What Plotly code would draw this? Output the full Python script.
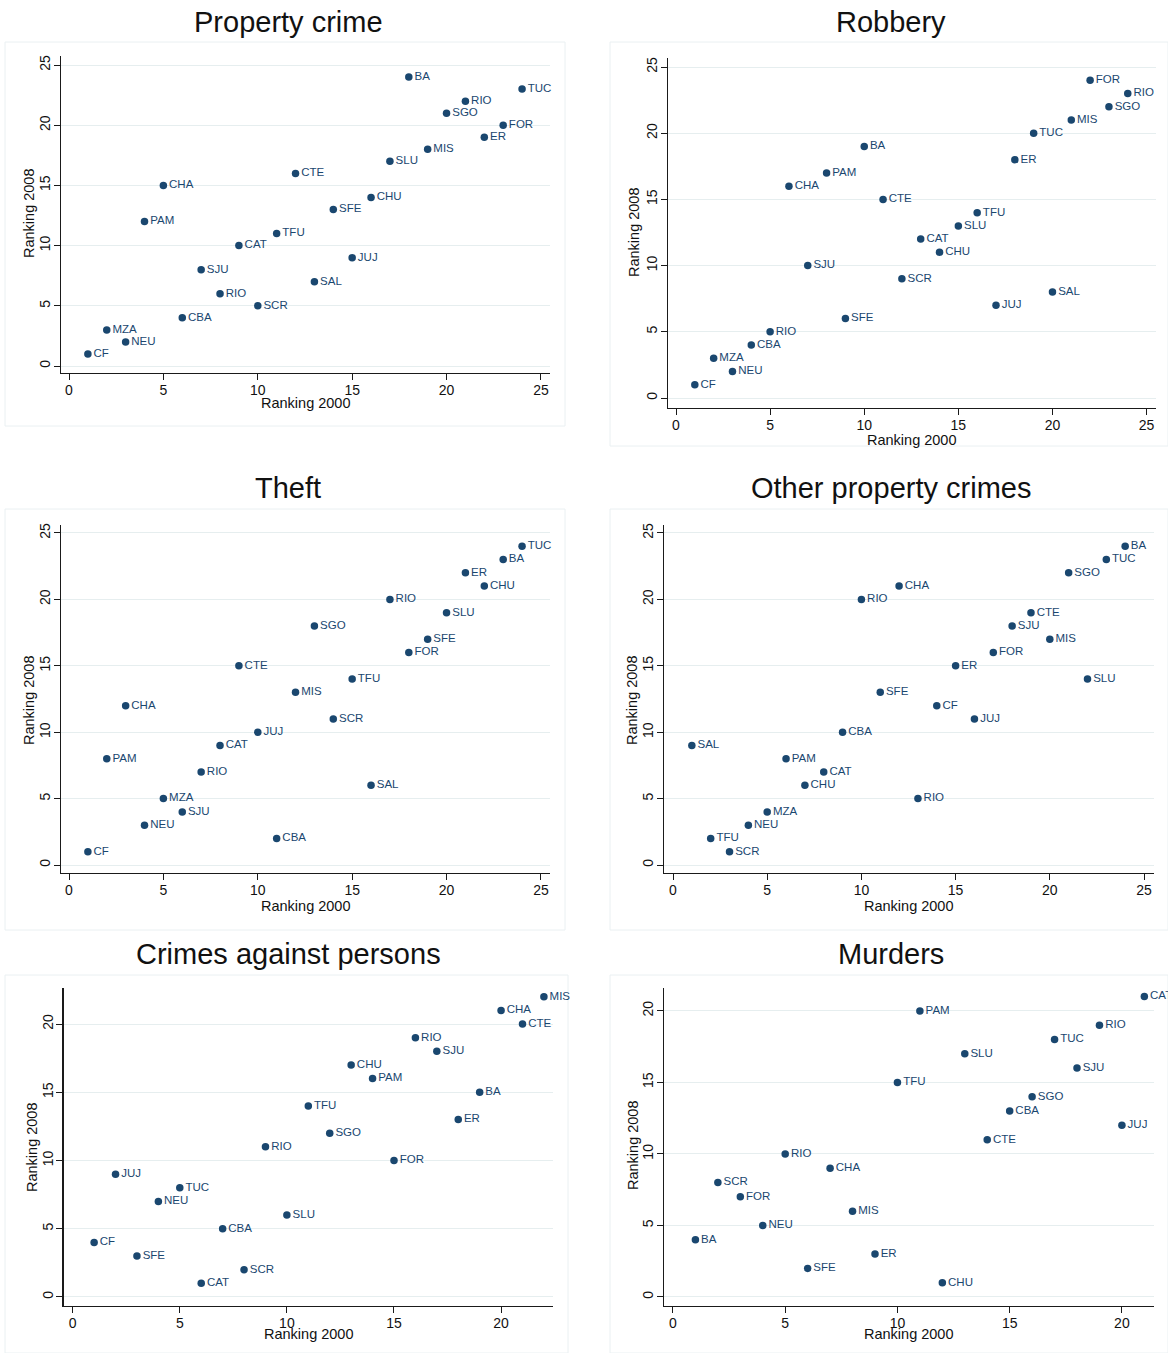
import plotly.graph_objects as go

# ---------------- data ----------------
ticks_25 = [0, 5, 10, 15, 20, 25]
ticks_20 = [0, 5, 10, 15, 20]

prop_labels = ["BA", "TUC", "RIO", "SGO", "FOR", "ER", "MIS", "SLU", "CTE", "CHA", "CHU", "SFE",
               "PAM", "TFU", "CAT", "JUJ", "SJU", "SAL", "RIO", "SCR", "CBA", "MZA", "NEU", "CF"]
prop_x = [18, 24, 21, 20, 23, 22, 19, 17, 12, 5, 16, 14, 4, 11, 9, 15, 7, 13, 8, 10, 6, 2, 3, 1]
prop_y = [24, 23, 22, 21, 20, 19, 18, 17, 16, 15, 14, 13, 12, 11, 10, 9, 8, 7, 6, 5, 4, 3, 2, 1]

rob_labels = ["FOR", "RIO", "SGO", "MIS", "TUC", "BA", "ER", "PAM", "CHA", "CTE", "TFU", "SLU",
              "CAT", "CHU", "SJU", "SCR", "SAL", "JUJ", "SFE", "RIO", "CBA", "MZA", "NEU", "CF"]
rob_x = [22, 24, 23, 21, 19, 10, 18, 8, 6, 11, 16, 15, 13, 14, 7, 12, 20, 17, 9, 5, 4, 2, 3, 1]
rob_y = [24, 23, 22, 21, 20, 19, 18, 17, 16, 15, 14, 13, 12, 11, 10, 9, 8, 7, 6, 5, 4, 3, 2, 1]

theft_labels = ["TUC", "BA", "ER", "CHU", "RIO", "SLU", "SGO", "SFE", "FOR", "CTE", "TFU", "MIS",
                "CHA", "SCR", "JUJ", "CAT", "PAM", "RIO", "SAL", "MZA", "SJU", "NEU", "CBA", "CF"]
theft_x = [24, 23, 21, 22, 17, 20, 13, 19, 18, 9, 15, 12, 3, 14, 10, 8, 2, 7, 16, 5, 6, 4, 11, 1]
theft_y = [24, 23, 22, 21, 20, 19, 18, 17, 16, 15, 14, 13, 12, 11, 10, 9, 8, 7, 6, 5, 4, 3, 2, 1]

other_labels = ["BA", "TUC", "SGO", "CHA", "RIO", "CTE", "SJU", "MIS", "FOR", "ER", "SLU", "SFE",
                "CF", "JUJ", "CBA", "SAL", "PAM", "CAT", "CHU", "RIO", "MZA", "NEU", "TFU", "SCR"]
other_x = [24, 23, 21, 12, 10, 19, 18, 20, 17, 15, 22, 11, 14, 16, 9, 1, 6, 8, 7, 13, 5, 4, 2, 3]
other_y = [24, 23, 22, 21, 20, 19, 18, 17, 16, 15, 14, 13, 12, 11, 10, 9, 8, 7, 6, 5, 4, 3, 2, 1]

pers_labels = ["MIS", "CHA", "CTE", "RIO", "SJU", "CHU", "PAM", "BA", "TFU", "ER", "SGO",
               "RIO", "FOR", "JUJ", "TUC", "NEU", "SLU", "CBA", "CF", "SFE", "SCR", "CAT"]
pers_x = [22, 20, 21, 16, 17, 13, 14, 19, 11, 18, 12, 9, 15, 2, 5, 4, 10, 7, 1, 3, 8, 6]
pers_y = [22, 21, 20, 19, 18, 17, 16, 15, 14, 13, 12, 11, 10, 9, 8, 7, 6, 5, 4, 3, 2, 1]

mur_labels = ["CAT", "PAM", "RIO", "TUC", "SLU", "SJU", "TFU", "SGO", "CBA", "JUJ", "CTE",
              "RIO", "CHA", "SCR", "FOR", "MIS", "NEU", "BA", "ER", "SFE", "CHU"]
mur_x = [21, 11, 19, 17, 13, 18, 10, 16, 15, 20, 14, 5, 7, 2, 3, 8, 4, 1, 9, 6, 12]
mur_y = [21, 20, 19, 18, 17, 16, 15, 14, 13, 12, 11, 10, 9, 8, 7, 6, 5, 4, 3, 2, 1]

titles = ["Property crime", "Robbery", "Theft", "Other property crimes",
          "Crimes against persons", "Murders"]
x_title = "Ranking 2000"
y_title = "Ranking 2008"

# ---------------- layout (pixel geometry) ----------------
W, H = 1168, 1353
NAVY = "#1a476f"
FONT = "Liberation Sans, Arial, Helvetica, sans-serif"


def fx(px):
    return px / W


def fy(py):
    return 1 - py / H


panels = [
    dict(lab=prop_labels, x=prop_x, y=prop_y, ticks=ticks_25,
         xpx=(61, 550), ypx=(373, 56), xr=(-0.424, 25.48), yr=(-0.58, 25.75),
         t=(288, 22), xt=(306, 403), yt=(29, 213), box=(5, 42, 565, 426)),
    dict(lab=rob_labels, x=rob_x, y=rob_y, ticks=ticks_25,
         xpx=(668, 1156), ypx=(408, 58), xr=(-0.425, 25.5), yr=(-0.755, 25.68),
         t=(891, 22), xt=(912, 440), yt=(634, 232), box=(610, 42, 1168, 446)),
    dict(lab=theft_labels, x=theft_x, y=theft_y, ticks=ticks_25,
         xpx=(61, 550), ypx=(873, 525), xr=(-0.424, 25.48), yr=(-0.60, 25.6),
         t=(288, 488), xt=(306, 906), yt=(29, 700), box=(5, 509, 565, 930)),
    dict(lab=other_labels, x=other_x, y=other_y, ticks=ticks_25,
         xpx=(664, 1154), ypx=(873, 525), xr=(-0.478, 25.53), yr=(-0.60, 25.6),
         t=(891, 488), xt=(909, 906), yt=(632, 700), box=(610, 509, 1168, 930)),
    dict(lab=pers_labels, x=pers_x, y=pers_y, ticks=ticks_20,
         xpx=(63.6, 552.7), ypx=(1306, 988), xr=(-0.425, 22.41), yr=(-0.66, 22.64),
         t=(288, 954), xt=(309, 1334), yt=(32, 1147), box=(5, 975, 568, 1353)),
    dict(lab=mur_labels, x=mur_x, y=mur_y, ticks=ticks_20,
         xpx=(664, 1154), ypx=(1306, 988), xr=(-0.40, 21.43), yr=(-0.63, 21.6),
         t=(891, 954), xt=(909, 1334), yt=(633, 1145), box=(610, 975, 1168, 1353)),
]

fig = go.Figure()
annotations = []
shapes = []
layout_axes = {}

for i, p in enumerate(panels):
    n = "" if i == 0 else str(i + 1)
    fig.add_trace(go.Scatter(
        x=p["x"], y=p["y"], text=p["lab"], mode="markers+text",
        textposition="middle right", cliponaxis=False,
        marker=dict(size=7.5, color=NAVY, line=dict(width=0)),
        textfont=dict(family=FONT, size=11.5, color=NAVY),
        xaxis="x" + n, yaxis="y" + n, showlegend=False, hoverinfo="skip"))

    layout_axes["xaxis" + n] = dict(
        domain=[fx(p["xpx"][0]), fx(p["xpx"][1])], range=list(p["xr"]),
        anchor="y" + n, tickmode="array", tickvals=p["ticks"],
        showgrid=False, zeroline=False, showline=True, linecolor="#1a1a1a", linewidth=1.3,
        ticks="outside", ticklen=6, tickwidth=1, tickcolor="#1a1a1a",
        tickfont=dict(family=FONT, size=14, color="#111"), ticklabelstandoff=-2,
        automargin=False, fixedrange=True)
    layout_axes["yaxis" + n] = dict(
        domain=[fy(p["ypx"][0]), fy(p["ypx"][1])], range=list(p["yr"]),
        anchor="x" + n, tickmode="array", tickvals=p["ticks"],
        showgrid=True, gridcolor="#e6eeef", gridwidth=1,
        zeroline=False, showline=True, linecolor="#1a1a1a", linewidth=1.3,
        ticks="outside", ticklen=6, tickwidth=1, tickcolor="#1a1a1a", tickangle=-90,
        tickfont=dict(family=FONT, size=14, color="#111"), ticklabelstandoff=-2,
        automargin=False, fixedrange=True)

    annotations.append(dict(text=titles[i], x=fx(p["t"][0]), y=fy(p["t"][1]),
                            xref="paper", yref="paper", showarrow=False,
                            xanchor="center", yanchor="middle",
                            font=dict(family=FONT, size=29, color="#111")))
    annotations.append(dict(text=x_title, x=fx(p["xt"][0]), y=fy(p["xt"][1]),
                            xref="paper", yref="paper", showarrow=False,
                            xanchor="center", yanchor="middle",
                            font=dict(family=FONT, size=14.5, color="#111")))
    annotations.append(dict(text=y_title, x=fx(p["yt"][0]), y=fy(p["yt"][1]),
                            xref="paper", yref="paper", showarrow=False, textangle=-90,
                            xanchor="center", yanchor="middle",
                            font=dict(family=FONT, size=14.5, color="#111")))
    b = p["box"]
    shapes.append(dict(type="rect", xref="paper", yref="paper",
                       x0=fx(b[0]), x1=fx(b[2]), y0=fy(b[3]), y1=fy(b[1]),
                       line=dict(color="#eaf0f2", width=1), fillcolor="rgba(0,0,0,0)",
                       layer="below"))

fig.update_layout(
    width=W, height=H, margin=dict(l=0, r=0, t=0, b=0, pad=0),
    paper_bgcolor="white", plot_bgcolor="white",
    annotations=annotations, shapes=shapes, showlegend=False,
    **layout_axes)

fig.write_html("out.html", config={"displayModeBar": False, "staticPlot": True},
               post_script="document.body.style.margin='0';document.body.style.overflow='hidden';")
